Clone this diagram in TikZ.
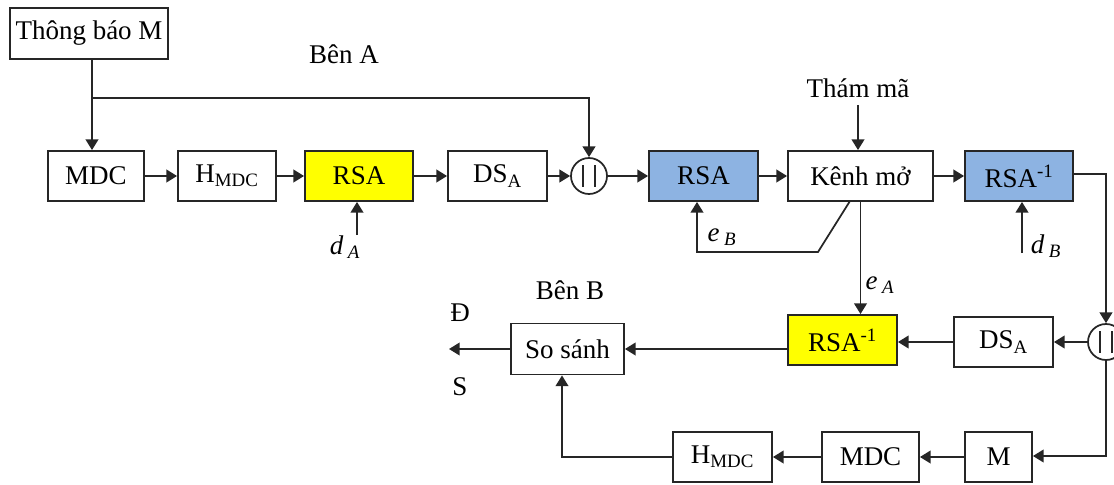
\documentclass[tikz,border=0pt]{standalone}
\usepackage{fontspec}
\setmainfont{Liberation Serif}
\usetikzlibrary{arrows.meta,calc}
\definecolor{ln}{HTML}{262626}
\definecolor{boxblue}{HTML}{8DB3E2}
\definecolor{boxyellow}{HTML}{FFFF00}
\begin{document}
\begin{tikzpicture}[x=0.75pt,y=-0.75pt,
  every node/.style={font=\fontsize{20.25}{24}\selectfont, text=black},
  blk/.style={draw=ln, line width=1.4pt, fill=white, inner sep=0pt,
              minimum height=37.5pt, minimum width=#1*0.75pt},
  yel/.style={blk=#1, fill=boxyellow},
  blu/.style={blk=#1, fill=boxblue},
  concat/.style={draw=ln, line width=1.3pt, circle, fill=white,
               minimum size=27pt, inner sep=0pt},
  wire/.style={draw=ln, line width=1.3pt},
  arr/.style={wire, -{Triangle[length=8pt,width=9.5pt]}},
  lbl/.style={inner sep=0pt}]
\useasboundingbox (0,0) rectangle (1114,485);

% --- sender side (top row) ---
\node[blk=158, minimum height=38.25pt] (tb) at (89,33.5) {Thông báo M};
\node[blk=96]  (mdc1) at (96,176)    {MDC};
\node[blk=98]  (h1)   at (227,176)   {H\textsubscript{MDC}};
\node[yel=108] (rsa1) at (359,176)   {RSA};
\node[blk=99]  (ds1)  at (497.5,176) {DS\textsubscript{A}};
\node[concat]  (c1)   at (589,176)   {};
\node[blu=109] (rsa2) at (703.5,176) {RSA};
\node[blk=145] (kenh) at (860.5,176) {Kênh mở};
\node[blu=108] (rsa3) at (1019,176)  {RSA\textsuperscript{-1}};

% --- receiver side ---
\node[concat]  (c2)   at (1106,342)  {};
\node[blk=99]  (ds2)  at (1003.5,342){DS\textsubscript{A}};
\node[yel=109] (rsa4) at (842.5,340) {RSA\textsuperscript{-1}};
\node[blk=113, minimum height=38.25pt] (ss) at (567.5,349) {So sánh};
\node[blk=99]  (h2)   at (722.5,457) {H\textsubscript{MDC}};
\node[blk=97]  (mdc2) at (870.5,457) {MDC};
\node[blk=67]  (m)    at (998.5,457) {M};

% concatenation bars
\foreach \c in {c1,c2}{
  \draw[wire] ($(\c)+(-6,-11)$) -- ($(\c)+(-6,11)$);
  \draw[wire] ($(\c)+(6,-11)$) -- ($(\c)+(6,11)$);
}

% --- free labels ---
\node[lbl] (benA)  at (344,54)   {Bên A};
\node[lbl] (tham)  at (858,88)   {Thám mã};
\node[lbl] (benB)  at (570,290)  {Bên B};
\node[lbl] (dd)    at (460,313)  {Đ};
\node[lbl] (ss2)   at (460,387)  {S};
\node[lbl] (dA)    at (345,247)  {\textit{d}\,\textsubscript{\textit{A}}};
\node[lbl] (dB)    at (1046,246) {\textit{d}\,\textsubscript{\textit{B}}};
\node[lbl] (eB)    at (722,237)  {\textit{e}\,\textsubscript{\textit{B}}};
\node[lbl] (eA)    at (880,285)  {\textit{e}\,\textsubscript{\textit{A}}};

% --- helper points ---
\coordinate (br)   at (92,98);
\coordinate (dAt)  at (357,235);
\coordinate (dBt)  at (1022,253);
\coordinate (thm)  at (858,105);
\coordinate (kd)   at (850,201);
\coordinate (kb)   at (818,252);
\coordinate (eBc)  at (697,252);
\coordinate (rr)   at (1106,174);
\coordinate (rb)   at (1106,456);
\coordinate (out)  at (449,349);
\coordinate (hup)  at (562,457);

% --- top row flow ---
\draw[wire] (br |- tb.south) -- (br);
\draw[arr]  (br) -- (br |- mdc1.north);
\draw[arr]  (br) -- (c1.north |- br) -- (c1.north);
\draw[arr]  (mdc1) -- (h1);
\draw[arr]  (h1) -- (rsa1);
\draw[arr]  (rsa1) -- (ds1);
\draw[arr]  (ds1) -- (c1);
\draw[arr]  (c1) -- (rsa2);
\draw[arr]  (rsa2) -- (kenh);
\draw[arr]  (kenh) -- (rsa3);
\draw[arr]  (dAt) -- (dAt |- rsa1.south);
\draw[arr]  (dBt) -- (dBt |- rsa3.south);
\draw[arr]  (thm) -- (thm |- kenh.north);

% public key paths out of the open channel
\draw[arr]  (kd) -- (kb) -- (eBc) -- (eBc |- rsa2.south);
\draw[arr]  (kenh.south) -- (kenh.south |- rsa4.north);

% --- receiver flow ---
\draw[arr]  (rsa3.east |- rr) -- (rr) -- (c2.north);
\draw[arr]  (c2.south) -- (rb) -- (m.east |- rb);
\draw[arr]  (c2) -- (ds2);
\draw[arr]  (ds2) -- (ds2 -| rsa4.east);
\draw[arr]  (rsa4.west |- ss.east) -- (ss.east);
\draw[arr]  (ss.west) -- (out);
\draw[arr]  (m) -- (mdc2);
\draw[arr]  (mdc2) -- (h2);
\draw[arr]  (h2.west) -- (hup) -- (hup |- ss.south);
\end{tikzpicture}
\end{document}
